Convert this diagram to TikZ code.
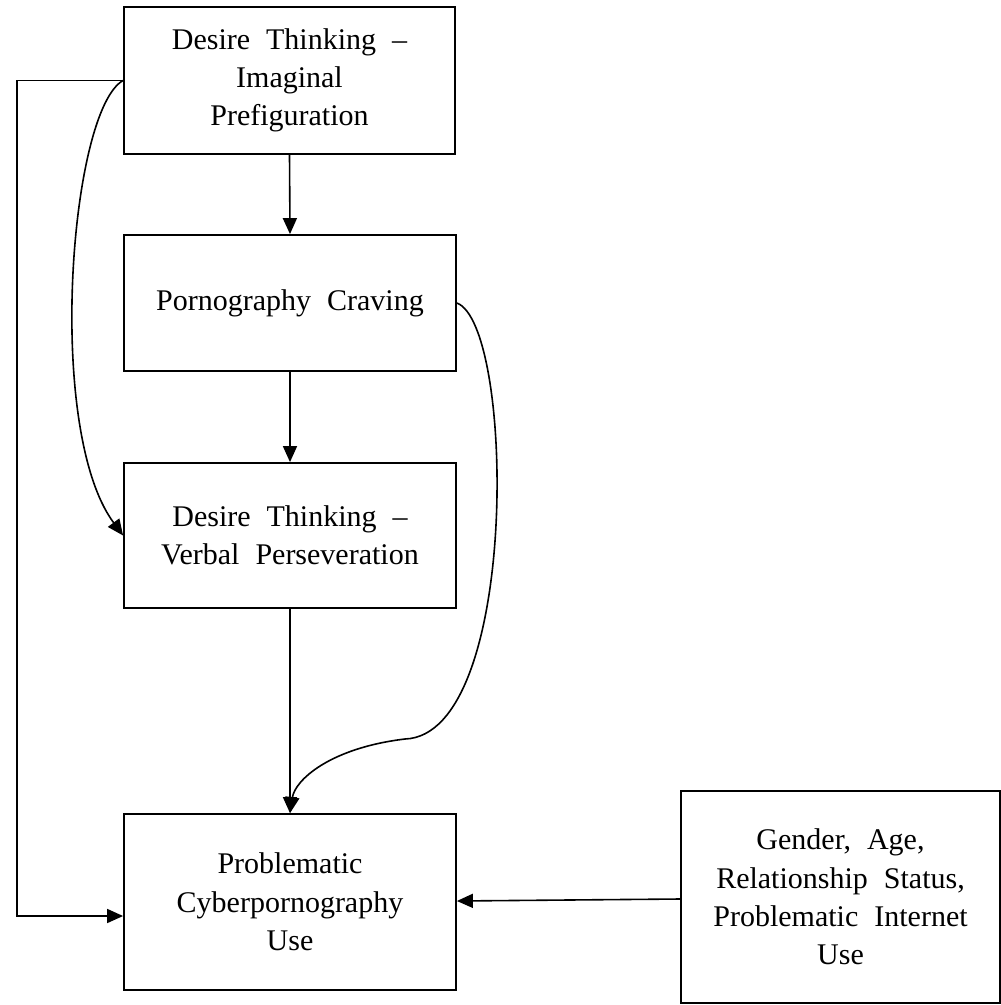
\documentclass[tikz,border=0pt]{standalone}
\usepackage{fontspec}
\setmainfont{Liberation Serif}
\usetikzlibrary{arrows.meta}
\newcommand\boxtextfont{\fontsize{30}{38.3}\selectfont\spaceskip=16pt plus 3pt minus 2pt\relax}
\begin{document}
\begin{tikzpicture}[x=1pt,y=-1pt,
  box/.style={draw,line width=1.8pt,rectangle,align=center,inner sep=0pt,
    font=\boxtextfont},
  link/.style={line width=1.6pt,-{Triangle[length=16pt,width=14pt]}}]
\useasboundingbox (0,0) rectangle (1001,1005);
\node[box,minimum width=331pt,minimum height=147pt] (b1) at (289.5,80.5)
  {Desire Thinking --\\Imaginal\\Prefiguration};
\node[box,minimum width=332pt,minimum height=136pt] (b2) at (290,303)
  {Pornography Craving};
\node[box,minimum width=332pt,minimum height=145pt] (b3) at (290,535.5)
  {Desire Thinking --\\Verbal Perseveration};
\node[box,minimum width=332pt,minimum height=176pt] (b4) at (290,902)
  {Problematic\\Cyberpornography\\Use};
\node[box,minimum width=319pt,minimum height=212pt] (b5) at (840.5,897)
  {Gender, Age,\\Relationship Status,\\Problematic Internet\\Use};
% main chain
\draw[link] (b1.south) -- (b2.north);
\draw[link] (b2.south) -- (b3.north);
\draw[link] (b3.south) -- (b4.north);
% direct path along the left margin (shifts are in page units: negative is down)
\coordinate (lt) at (17,80.5);
\coordinate (into4) at ([yshift=-14pt]b4.west);
\draw[link] (b1.west) -- (lt) |- (into4);
% curved paths
\draw[link] (b1.west) .. controls (70,110) and (45,430) .. (b3.west);
\draw[link] (b2.east) .. controls (515,325) and (520,735) .. (405,739)
  .. controls (330,748) and (295,780) .. (b4.north);
% covariates
\coordinate (from5) at ([yshift=-2pt]b5.west);
\coordinate (to4) at ([yshift=1pt]b4.east);
\draw[link] (from5) -- (to4);
\end{tikzpicture}
\end{document}
